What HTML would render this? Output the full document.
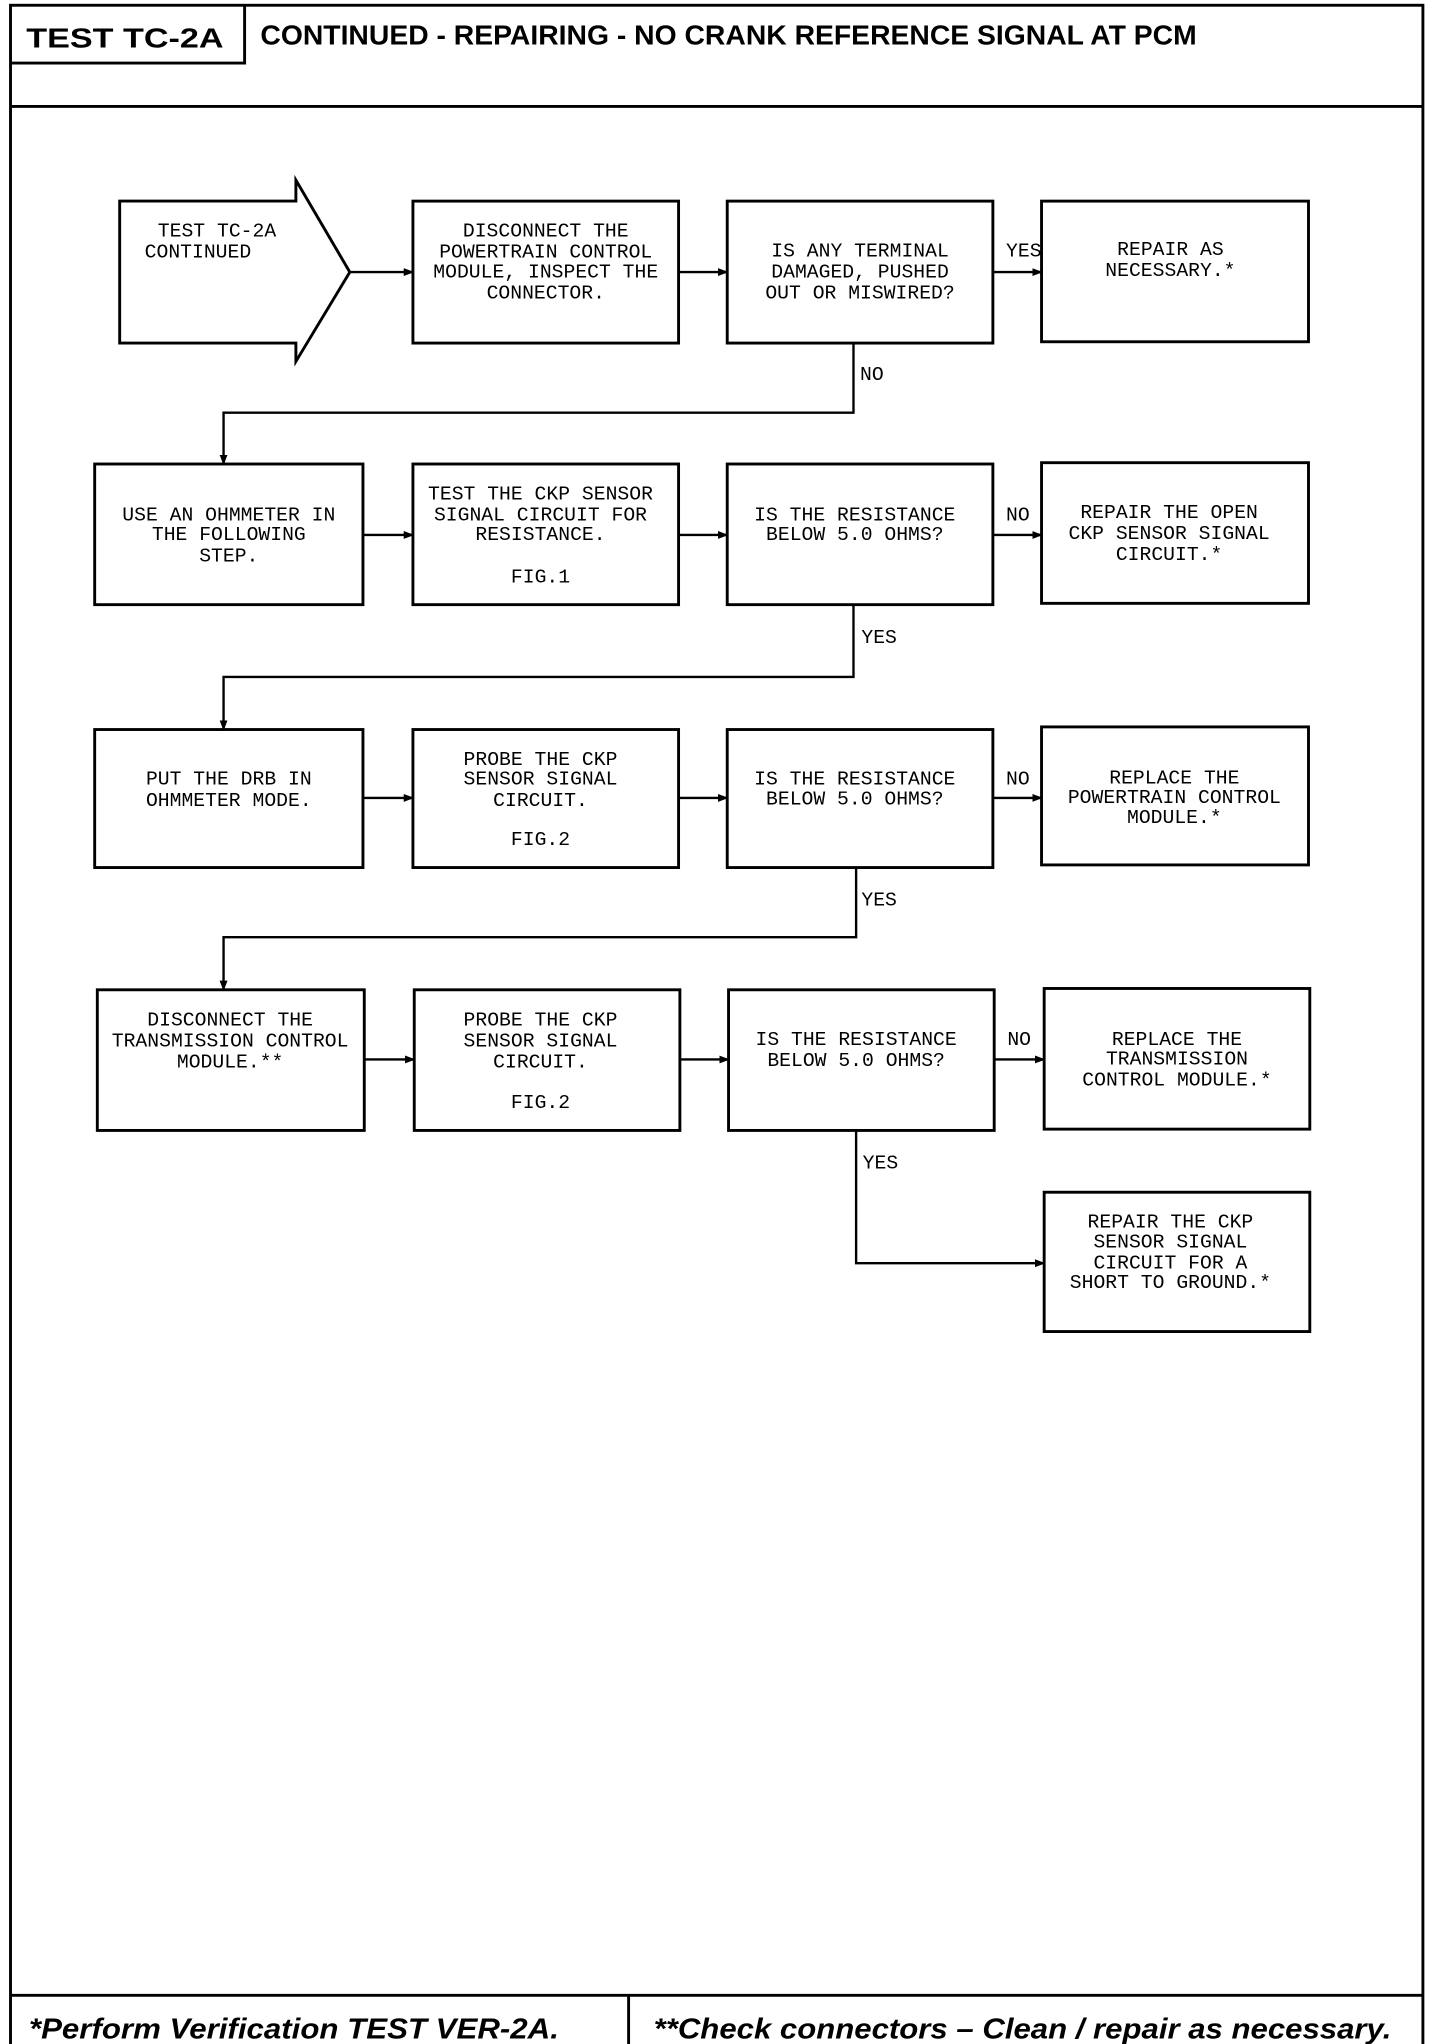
<!DOCTYPE html>
<html><head><meta charset="utf-8"><style>
html,body{margin:0;padding:0;background:#fff;}
svg{display:block;}
.t{font-family:"Liberation Mono",monospace;font-size:15px;fill:#000;text-anchor:middle;}
.l{font-family:"Liberation Mono",monospace;font-size:15px;fill:#000;}
.h{font-family:"Liberation Sans",sans-serif;font-weight:bold;font-size:21px;fill:#000;}
.f{font-family:"Liberation Sans",sans-serif;font-weight:bold;font-style:italic;font-size:22px;fill:#000;}
</style></head><body>
<svg width="1440" height="2044" viewBox="0 0 1095 1555" preserveAspectRatio="none" xmlns="http://www.w3.org/2000/svg">
<defs><marker id="a" markerWidth="8" markerHeight="8" refX="7" refY="4" orient="auto" markerUnits="userSpaceOnUse"><path d="M0,1 L8,4 L0,7 Z" fill="#000"/></marker></defs>
<g fill="none" stroke="#000" stroke-width="2.2">
<rect x="8" y="4" width="1074" height="1557"/>
<line x1="8" y1="81" x2="1082" y2="81"/>
<polyline points="8,48 186,48 186,4"/>
<line x1="8" y1="1518" x2="1082" y2="1518"/>
<line x1="478" y1="1518" x2="478" y2="1561"/>
<path d="M91,153 L225,153 L225,137 L266,207 L225,275 L225,261 L91,261 Z"/>
<rect x="314" y="153" width="202" height="108"/>
<rect x="553" y="153" width="202" height="108"/>
<rect x="792" y="153" width="203" height="107"/>
<rect x="72" y="353" width="204" height="107"/>
<rect x="314" y="353" width="202" height="107"/>
<rect x="553" y="353" width="202" height="107"/>
<rect x="792" y="352" width="203" height="107"/>
<rect x="72" y="555" width="204" height="105"/>
<rect x="314" y="555" width="202" height="105"/>
<rect x="553" y="555" width="202" height="105"/>
<rect x="792" y="553" width="203" height="105"/>
<rect x="74" y="753" width="203" height="107"/>
<rect x="315" y="753" width="202" height="107"/>
<rect x="554" y="753" width="202" height="107"/>
<rect x="794" y="752" width="202" height="107"/>
<rect x="794" y="907" width="202" height="106"/>
<g stroke-width="1.8" marker-end="url(#a)">
<line x1="266" y1="207" x2="314" y2="207"/>
<line x1="516" y1="207" x2="553" y2="207"/>
<line x1="755" y1="207" x2="792" y2="207"/>
<polyline points="649,261 649,314 170,314 170,353"/>
<line x1="276" y1="407" x2="314" y2="407"/>
<line x1="516" y1="407" x2="553" y2="407"/>
<line x1="755" y1="407" x2="792" y2="407"/>
<polyline points="649,460 649,515 170,515 170,555"/>
<line x1="276" y1="607" x2="314" y2="607"/>
<line x1="516" y1="607" x2="553" y2="607"/>
<line x1="755" y1="607" x2="792" y2="607"/>
<polyline points="651,660 651,713 170,713 170,753"/>
<line x1="277" y1="806" x2="315" y2="806"/>
<line x1="517" y1="806" x2="554" y2="806"/>
<line x1="756" y1="806" x2="794" y2="806"/>
<polyline points="651,860 651,961 794,961"/>
</g>
</g>
<text class="h" x="20" y="36" textLength="150" lengthAdjust="spacingAndGlyphs">TEST TC-2A</text>
<text class="h" x="198" y="34" textLength="712" lengthAdjust="spacingAndGlyphs">CONTINUED - REPAIRING - NO CRANK REFERENCE SIGNAL AT PCM</text>
<text class="f" x="22" y="1551" textLength="403" lengthAdjust="spacingAndGlyphs">*Perform Verification TEST VER-2A.</text>
<text class="f" x="497" y="1551" textLength="561" lengthAdjust="spacingAndGlyphs">**Check connectors – Clean / repair as necessary.</text>

<text class="l" x="120" y="180">TEST TC-2A</text>
<text class="l" x="110" y="196">CONTINUED</text>
<text class="t" x="415" y="180">DISCONNECT THE</text>
<text class="t" x="415" y="196">POWERTRAIN CONTROL</text>
<text class="t" x="415" y="211">MODULE, INSPECT THE</text>
<text class="t" x="415" y="227">CONNECTOR.</text>
<text class="t" x="654" y="195">IS ANY TERMINAL</text>
<text class="t" x="654" y="211">DAMAGED, PUSHED</text>
<text class="t" x="654" y="227">OUT OR MISWIRED?</text>
<text class="t" x="890" y="194">REPAIR AS</text>
<text class="t" x="890" y="210">NECESSARY.*</text>
<text class="l" x="765" y="195">YES</text>
<text class="l" x="654" y="289">NO</text>

<text class="t" x="174" y="396">USE AN OHMMETER IN</text>
<text class="t" x="174" y="411">THE FOLLOWING</text>
<text class="t" x="174" y="427">STEP.</text>
<text class="t" x="411" y="380">TEST THE CKP SENSOR</text>
<text class="t" x="411" y="396">SIGNAL CIRCUIT FOR</text>
<text class="t" x="411" y="411">RESISTANCE.</text>
<text class="t" x="411" y="443">FIG.1</text>
<text class="t" x="650" y="396">IS THE RESISTANCE</text>
<text class="t" x="650" y="411">BELOW 5.0 OHMS?</text>
<text class="l" x="765" y="396">NO</text>
<text class="t" x="889" y="394">REPAIR THE OPEN</text>
<text class="t" x="889" y="410">CKP SENSOR SIGNAL</text>
<text class="t" x="889" y="426">CIRCUIT.*</text>
<text class="l" x="655" y="489">YES</text>

<text class="t" x="174" y="597">PUT THE DRB IN</text>
<text class="t" x="174" y="613">OHMMETER MODE.</text>
<text class="t" x="411" y="582">PROBE THE CKP</text>
<text class="t" x="411" y="597">SENSOR SIGNAL</text>
<text class="t" x="411" y="613">CIRCUIT.</text>
<text class="t" x="411" y="643">FIG.2</text>
<text class="t" x="650" y="597">IS THE RESISTANCE</text>
<text class="t" x="650" y="612">BELOW 5.0 OHMS?</text>
<text class="l" x="765" y="597">NO</text>
<text class="t" x="893" y="596">REPLACE THE</text>
<text class="t" x="893" y="611">POWERTRAIN CONTROL</text>
<text class="t" x="893" y="626">MODULE.*</text>
<text class="l" x="655" y="689">YES</text>

<text class="t" x="175" y="780">DISCONNECT THE</text>
<text class="t" x="175" y="796">TRANSMISSION CONTROL</text>
<text class="t" x="175" y="812">MODULE.**</text>
<text class="t" x="411" y="780">PROBE THE CKP</text>
<text class="t" x="411" y="796">SENSOR SIGNAL</text>
<text class="t" x="411" y="812">CIRCUIT.</text>
<text class="t" x="411" y="843">FIG.2</text>
<text class="t" x="651" y="795">IS THE RESISTANCE</text>
<text class="t" x="651" y="811">BELOW 5.0 OHMS?</text>
<text class="l" x="766" y="795">NO</text>
<text class="t" x="895" y="795">REPLACE THE</text>
<text class="t" x="895" y="810">TRANSMISSION</text>
<text class="t" x="895" y="826">CONTROL MODULE.*</text>
<text class="l" x="656" y="889">YES</text>
<text class="t" x="890" y="934">REPAIR THE CKP</text>
<text class="t" x="890" y="949">SENSOR SIGNAL</text>
<text class="t" x="890" y="965">CIRCUIT FOR A</text>
<text class="t" x="890" y="980">SHORT TO GROUND.*</text>
</svg>
</body></html>
